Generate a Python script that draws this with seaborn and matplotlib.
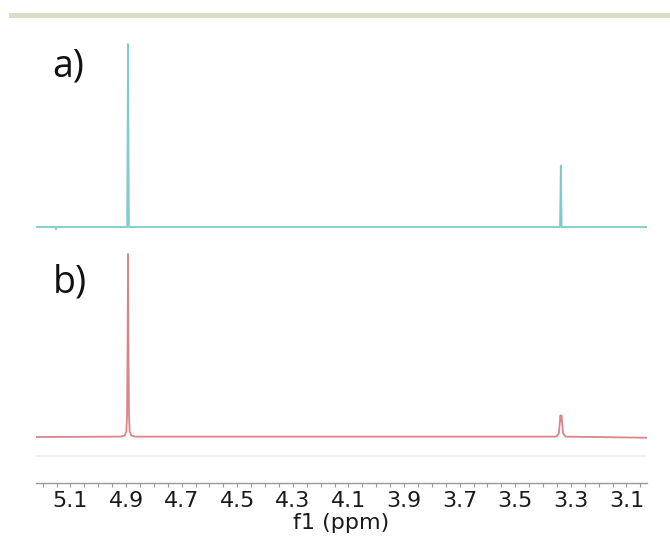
"""
1H NMR spectra, panel a) and b), stacked on one ppm axis
"""

import matplotlib
matplotlib.use("Agg")
import matplotlib.pyplot as plt
import seaborn as sns
import pandas as pd
from matplotlib.patches import Rectangle
from matplotlib.ticker import FixedLocator, MultipleLocator

# ===============================
# Data
# ===============================

# spectrum a) : ppm and relative intensity (tallest peak = 1)
ppm_a = [5.224, 5.154, 5.152, 5.150, 4.896, 4.893, 4.890, 3.339, 3.336, 3.333, 3.026]
int_a = [0.0, 0.0, -0.012, 0.0, 0.0, 1.0, 0.0, 0.0, 0.335, 0.0, 0.0]

# spectrum b) : broader lines, methanol signal split in two
ppm_b = [5.224, 4.920, 4.905, 4.899, 4.8965, 4.8945, 4.893, 4.8915, 4.8895,
         4.887, 4.881, 4.866, 3.352, 3.343, 3.339, 3.337, 3.3355, 3.334,
         3.332, 3.328, 3.319, 3.026]
int_b = [0.0, 0.002, 0.008, 0.03, 0.12, 0.5, 1.0, 0.5, 0.12,
         0.03, 0.008, 0.002, 0.002, 0.02, 0.09, 0.118, 0.09, 0.118,
         0.09, 0.02, 0.002, -0.004]

tick_labels = ["5.1", "4.9", "4.7", "4.5", "4.3", "4.1", "3.9", "3.7", "3.5", "3.3", "3.1"]
panel_labels = ["a)", "b)"]

df_a = pd.DataFrame({"ppm": ppm_a, "intensity": int_a})
df_b = pd.DataFrame({"ppm": ppm_b, "intensity": int_b})

# ===============================
# Plot
# ===============================

sns.set_style("white")
plt.rcParams["font.family"] = ["DejaVu Sans"]

W, H = 670, 545
fig = plt.figure(figsize=(6.7, 5.45), dpi=100)
ax = fig.add_axes([36 / W, 1 - 483 / H, 611 / W, (483 - 40) / H])

# stack offsets (in axis units, roughly pixels above the axis line)
scale = 183
off_a, off_b = 256, 46

df_a["y"] = df_a["intensity"] * scale + off_a
df_b["y"] = df_b["intensity"] * scale + off_b

sns.lineplot(data=df_a, x="ppm", y="y", ax=ax, color="#7fcbcd", lw=1.3,
             sort=False, estimator=None)
sns.lineplot(data=df_b, x="ppm", y="y", ax=ax, color="#d98589", lw=1.3,
             sort=False, estimator=None)

# faint reference line under the spectra
ax.axhline(27, color="#ebebeb", lw=1.2)

ax.set_xlim(5.224, 3.026)
ax.set_ylim(0, 443)

ax.xaxis.set_major_locator(FixedLocator([float(t) for t in tick_labels]))
ax.set_xticklabels(tick_labels)
ax.xaxis.set_minor_locator(MultipleLocator(0.05))
ax.tick_params(axis="x", which="both", direction="out", length=3, width=0.8,
               color="#999999", bottom=True, labelsize=16, labelcolor="#1a1a1a", pad=3)
ax.set_yticks([])
ax.set_ylabel("")
ax.set_xlabel("f1 (ppm)", fontsize=16, color="#1a1a1a", labelpad=1)

sns.despine(ax=ax, left=True, top=True, right=True)
ax.spines["bottom"].set_color("#999999")
ax.spines["bottom"].set_linewidth(1.0)

# panel letters
fig.text(52 / W, 1 - 77 / H, panel_labels[0], fontsize=27, family=["Open Sans", "DejaVu Sans"],
         va="baseline", ha="left", color="#111111")
fig.text(53 / W, 1 - 293 / H, panel_labels[1], fontsize=27, family=["Open Sans", "DejaVu Sans"],
         va="baseline", ha="left", color="#111111")

# tan band at the top of the figure
fig.add_artist(Rectangle((9 / W, 1 - 18 / H), (W - 9) / W, 5 / H,
                         transform=fig.transFigure, color="#dedbc9", lw=0))

fig.savefig("out.png", dpi=100)
